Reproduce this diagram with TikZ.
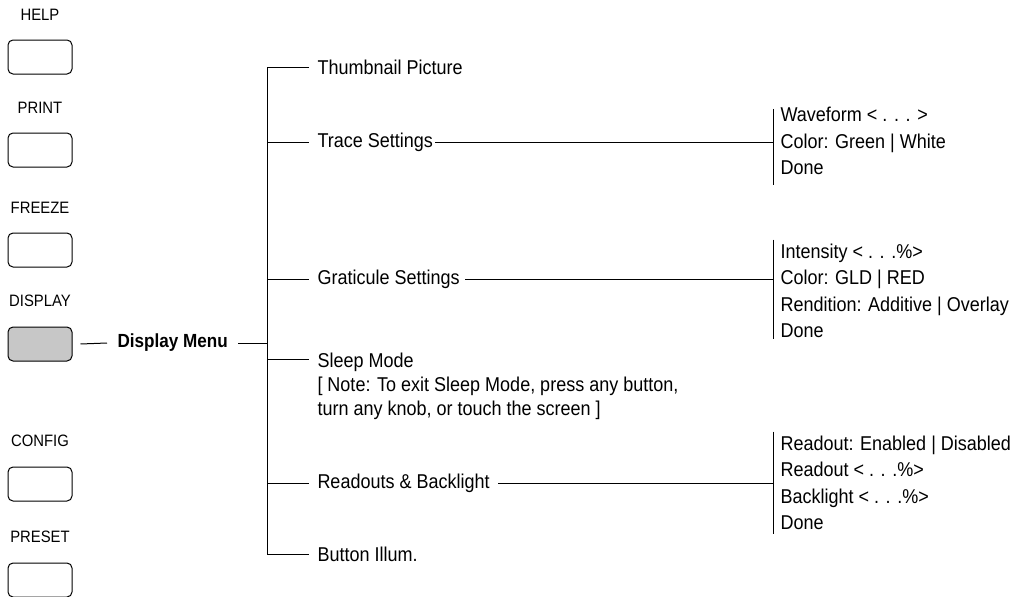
\documentclass[tikz,border=0pt]{standalone}
\usepackage{fontspec}
\setmainfont{Liberation Sans}[FakeStretch=0.9]
\usepackage{tikz}
\usetikzlibrary{positioning}
\usetikzlibrary{calc}

\tikzset{
  btn/.style={draw, line width=1pt, rounded corners=5pt, minimum width=64pt, minimum height=34pt, inner sep=0pt},
  btnlabel/.style={font=\fontsize{16.5}{19}\selectfont, inner sep=0pt},
  item/.style={font=\fontsize{20}{24}\selectfont, anchor=west, inner sep=2pt, align=left},
  sub/.style={font=\fontsize{20}{26.4}\selectfont, anchor=west, inner xsep=0pt, inner ysep=4pt, align=left},
}

\begin{document}
\begin{tikzpicture}[x=1pt, y=-1pt, line width=1pt]
\useasboundingbox (0,0) rectangle (1013,597);

% Front panel buttons
\node[btn] (help) at (40,57) {};
\node[btnlabel, above=19pt of help] (helplbl) {HELP};

\node[btn] (print) at (40,150) {};
\node[btnlabel, above=19pt of print] (printlbl) {PRINT};

\node[btn] (freeze) at (40,250) {};
\node[btnlabel, above=19pt of freeze] (freezelbl) {FREEZE};

\node[btn, fill=black!22] (display) at (40,344) {};
\node[btnlabel, above=19pt of display] (displaylbl) {DISPLAY};

\node[btn] (config) at (40,484) {};
\node[btnlabel, above=19pt of config] (configlbl) {CONFIG};

\node[btn] (preset) at (40,580) {};
\node[btnlabel, above=19pt of preset] (presetlbl) {PRESET};

% Display menu
\node[item, font=\fontsize{19}{23}\bfseries] (dmenu) at (115,343) {Display Menu};
\draw ([xshift=8pt]display.east) -- ([xshift=-8pt]dmenu.west);

% Menu entries
\coordinate (trunk) at (267,0);
\node[item] (thumb) at (315,67) {Thumbnail Picture};
\node[item] (trace) at (315,142) {Trace Settings};
\node[item] (grat) at (315,279) {Graticule Settings};
\node[item] (sleep) at (315,386) {Sleep Mode\\{}[ Note: To exit Sleep Mode, press any button,\\turn any knob, or touch the screen ]};
\node[item] (readout) at (315,483) {Readouts \& Backlight};
\node[item] (illum) at (315,554) {Button Illum.};

\draw ([xshift=8pt]dmenu.east) -- (dmenu.east -| trunk);

% Trunk with first and last entry
\draw ([xshift=-6pt]thumb.west) -- (thumb.west -| trunk) -- (illum.west -| trunk) -- ([xshift=-6pt]illum.west);

\draw (trace.west -| trunk) -- ([xshift=-6pt]trace.west);
\draw (grat.west -| trunk) -- ([xshift=-6pt]grat.west);
\coordinate (sleepline) at ([yshift=-9pt]sleep.north west);
\draw (sleepline -| trunk) -- ([xshift=-6pt]sleepline);
\draw (readout.west -| trunk) -- ([xshift=-6pt]readout.west);

% Sub menus
\node[sub] (tsub) at (780,141) {Waveform < . . . >\\Color: Green | White\\Done};
\node[sub] (gsub) at (780,291) {Intensity < . . .\%>\\Color: GLD | RED\\Rendition: Additive | Overlay\\Done};
\node[sub] (rsub) at (780,483) {Readout: Enabled | Disabled\\Readout < . . .\%>\\Backlight < . . .\%>\\Done};

\coordinate (tbar) at ([xshift=-7pt]tsub.west);
\coordinate (gbar) at ([xshift=-7pt]gsub.west);
\coordinate (rbar) at ([xshift=-7pt]rsub.west);

\draw ([xshift=-7pt,yshift=-6pt]tsub.north west) -- ([xshift=-7pt,yshift=-6pt]tsub.south west);
\draw ([xshift=-7pt]gsub.north west) -- ([xshift=-7pt,yshift=3pt]gsub.south west);
\draw ([xshift=-7pt]rsub.north west) -- ([xshift=-7pt]rsub.south west);

\draw (trace.east) -- (trace.east -| tbar);
\draw ([xshift=3pt]grat.east) -- (grat.east -| gbar);
\draw ([xshift=6pt]readout.east) -- (readout.east -| rbar);

\end{tikzpicture}
\end{document}
